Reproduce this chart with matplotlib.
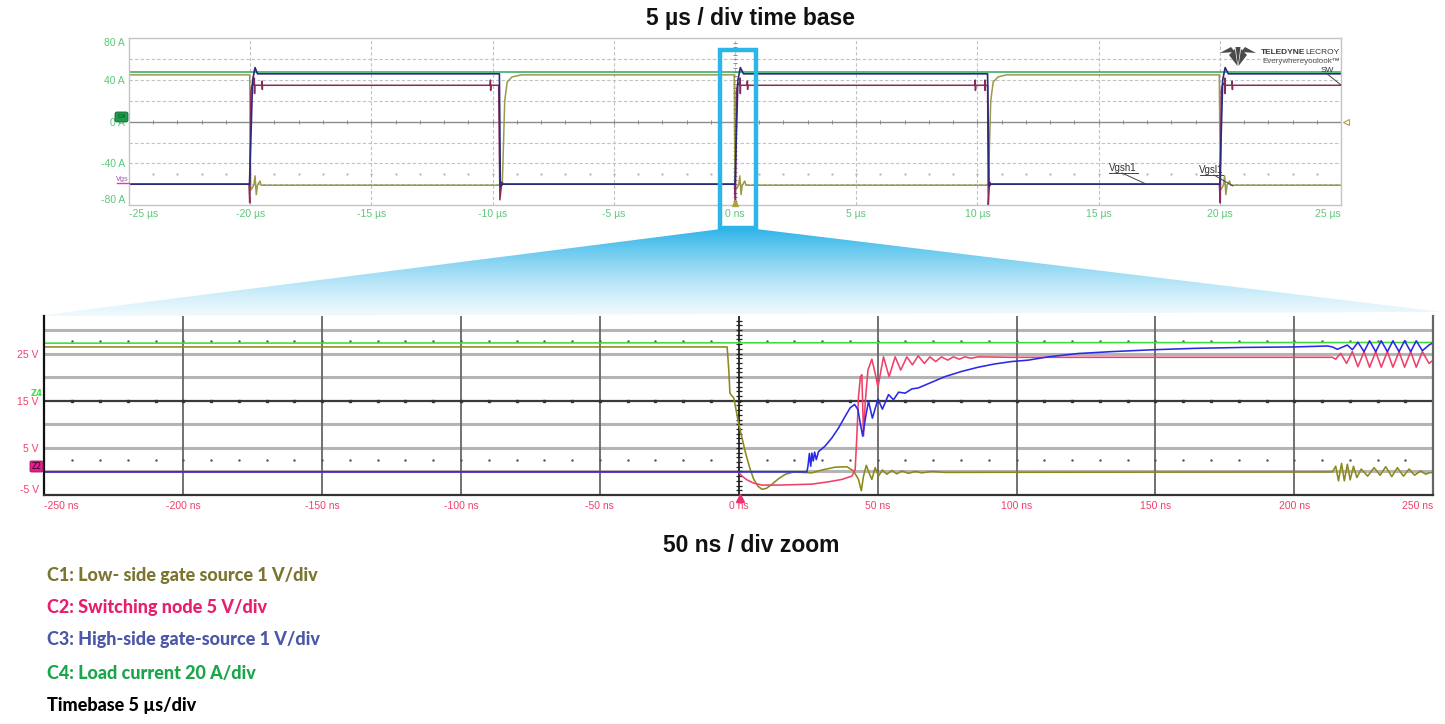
import numpy as np
import matplotlib
matplotlib.use("Agg")
import matplotlib.pyplot as plt
from matplotlib.patches import Rectangle, FancyBboxPatch, Polygon

# top screen: 5 us/div, time in us, traces in screen units (A scale)
top_xticks = [-25, -20, -15, -10, -5, 0, 5, 10, 15, 20, 25]
top_xlabels = ['-25 µs', '-20 µs', '-15 µs', '-10 µs', '-5 µs', '0 ns',
               '5 µs', '10 µs', '15 µs', '20 µs', '25 µs']
top_yticks = [80, 40, 0, -40, -80]
top_ylabels = ['80 A', '40 A', '0 A', '-40 A', '-80 A']

top_green_t = [-25, 25]
top_green_v = [47.5, 47.5]

top_olive_t = [-25, -20.02, -19.98, -19.85, -19.8, -19.75, -19.7, -19.6, -19.55, -9.6, -9.5, -9.4, -9.2, -8.8,
               -0.03, 0.0, 0.15, 0.2, 0.25, 0.3, 0.4, 0.45, 10.45, 10.55, 10.65, 10.85, 11.2,
               19.98, 20.02, 20.15, 20.2, 20.25, 20.3, 20.4, 20.45, 25]
top_olive_v = [45, 45, -66, -61, -52, -70, -61, -57, -61, -61, 20, 38, 43, 45,
               45, -66, -61, -52, -70, -61, -57, -61, -61, 20, 38, 43, 45,
               45, -66, -61, -52, -70, -61, -57, -61, -61]

top_blue_t = [-25, -20.03, -19.9, -19.8, -19.7, -9.72, -9.68, -9.6,
              0.0, 0.12, 0.22, 0.35, 10.42, 10.48, 10.55,
              20.0, 20.12, 20.22, 20.35, 25]
top_blue_v = [-60, -60, 40, 52, 46, 46, -62, -60,
              -60, 40, 52, 46, 46, -62, -60,
              -60, 40, 52, 46, 46]

top_sw_t = [-25, -20.05, -20.02, -19.97, -19.9, -19.84, -19.83, -19.82, -19.81, -19.52, -19.51, -19.50, -19.49,
            -10.1, -10.09, -10.08, -10.07, -9.75, -9.7, -9.62, -9.55,
            -0.02, 0.02, 0.06, 0.12, 0.2, 0.21, 0.22, 0.23, 0.5, 0.51, 0.52, 0.53,
            9.9, 9.91, 9.92, 9.93, 10.3, 10.31, 10.32, 10.33, 10.42, 10.45, 10.5, 10.55,
            19.98, 20.02, 20.06, 20.12, 20.2, 20.21, 20.22, 20.23, 20.5, 20.51, 20.52, 20.53, 25]
top_sw_v = [-60, -60, -78, 30, 37, 35, 42, 27, 35, 35, 39, 31, 35,
            35, 40, 30, 35, 35, -75, -58, -60,
            -60, -78, 30, 37, 35, 42, 27, 35, 35, 39, 31, 35,
            35, 40, 30, 35, 35, 40, 30, 35, 35, -80, -58, -60,
            -60, -78, 30, 37, 35, 42, 27, 35, 35, 39, 31, 35, 35]

# zoom screen: 50 ns/div, time in ns, traces in screen units (V scale)
lo_xticks = [-250, -200, -150, -100, -50, 0, 50, 100, 150, 200, 250]
lo_xlabels = ['-250 ns', '-200 ns', '-150 ns', '-100 ns', '-50 ns', '0 ns',
              '50 ns', '100 ns', '150 ns', '200 ns', '250 ns']
lo_yticks = [25, 15, 5, -5]
lo_ylabels = ['25 V', '15 V', '5 V', '-5 V']

lo_green_t = [-250, 250]
lo_green_v = [27.2, 27.35]

lo_olive_t = [-250, -4.2, -3.6, -3.2, -2.6, -1.8, -1.0, -0.2, 1.0, 2.4, 3.9, 5.4, 7.0, 8.4, 9.9,
              12.0, 14.4, 16.8, 19.8, 26.3, 29.9, 34.7, 38.9, 41.3, 43.1, 44.1, 44.9, 45.9, 47.1, 47.9,
              49.1, 50.3, 51.7, 53.3, 55.1, 56.9, 58.7, 61.1, 63.5, 65.9, 69.5, 74.2,
              213.7, 214.9, 215.9, 217.0, 218.0, 219.1, 220.1, 221.3, 222.5, 224.1, 226.4, 228.7,
              230.9, 232.9, 235.1, 237.1, 239.3, 241.3, 243.3, 245.5, 247.3, 248.5, 250]
lo_olive_v = [26.4, 26.4, 21.5, 16.6, 16.1, 15.6, 13.1, 10.6, 7.5, 4.0, 0.8, -1.7, -3.2, -3.8, -3.6,
              -2.7, -1.5, -0.6, -0.1, -0.3, 0.3, 0.9, 1.0, 0.1, -1.7, -4.1, -1.0, 1.3, -0.6, -1.7,
              0.8, -1.0, 0.3, -0.6, 0.2, -0.5, 0.1, -0.4, 0.0, -0.3, 0.0, -0.2,
              -0.1, 1.1, -2.0, 1.7, -2.0, 1.5, -1.8, 1.1, -1.3, 0.5, -1.0, 0.8,
              -0.8, 1.0, -1.1, 0.8, -1.0, 0.5, -0.8, 0.1, -0.6, -0.3, -0.2]

lo_red_t = [-250, -0.2, 1.2, 3.0, 5.4, 8.4, 14.4, 20.4, 26.3, 32.3, 37.1, 40.7, 41.9, 42.5, 43.1,
            43.8, 44.3, 44.9, 45.5, 46.5, 47.9, 49.1, 50.1, 51.0, 52.1, 54.1, 56.3, 58.3, 60.5, 62.5,
            64.6, 66.8, 68.8, 70.9, 73.0, 75.2, 77.2, 79.4, 81.4, 83.6, 86.2, 98.2,
            213.7, 214.9, 216.7, 218.8, 220.9, 222.9, 225.1, 227.1, 229.3, 231.3, 233.5, 235.5,
            237.7, 239.7, 241.9, 243.9, 246.1, 248.5, 250]
lo_red_v = [-0.1, -0.1, -1.0, -1.8, -2.5, -2.9, -2.9, -2.8, -2.7, -2.2, -1.7, -1.0, 0.4, 7.5, 15.9,
            20.1, 20.5, 7.5, 14.5, 21.5, 23.8, 20.8, 17.9, 20.8, 24.3, 20.1, 24.3, 21.5, 24.3, 22.6,
            24.5, 22.9, 24.3, 23.3, 24.3, 23.6, 24.3, 23.8, 24.3, 24.0, 24.3, 24.2,
            24.2, 23.8, 25.05, 22.9, 25.4, 22.2, 25.4, 22.1, 25.4, 22.1, 25.4, 22.1,
            25.4, 22.1, 25.4, 22.1, 25.4, 22.9, 23.6]

lo_blue_t = [-250, 24.5, 24.9, 25.4, 25.9, 26.3, 26.8, 27.3, 27.9, 28.7, 31.1, 33.5, 35.9, 38.3, 40.1,
             41.7, 42.9, 43.7, 44.6, 45.5, 46.7, 48.1, 50.1, 51.7, 53.9, 55.7, 57.5, 59.9, 62.3, 64.6,
             68.2, 74.2, 80.2, 86.2, 92.2, 98.2, 104.2, 111.4, 122.1, 134.1, 149.1, 164.0, 182.0,
             200.0, 212.0, 213.7, 215.5, 219.1, 220.9, 222.9, 225.1, 227.1, 229.3, 231.3, 233.5,
             235.5, 237.7, 239.7, 241.9, 243.9, 246.1, 248.5, 250]
lo_blue_v = [-0.1, -0.1, 1.1, 3.8, 1.1, 3.9, 2.2, 4.1, 2.5, 4.2, 5.4, 7.1, 9.2, 11.7, 13.5,
             14.2, 13.1, 10.3, 7.5, 11.0, 14.9, 11.3, 15.35, 13.2, 16.3, 15.2, 16.8, 16.6, 17.5, 17.7,
             18.6, 20.1, 21.2, 22.1, 22.8, 23.3, 23.6, 24.3, 25.0, 25.4, 25.8, 26.1, 26.3,
             26.4, 26.6, 26.4, 25.9, 26.8, 25.8, 27.4, 25.4, 27.7, 25.4, 27.7, 25.4,
             27.7, 25.4, 27.7, 25.4, 27.7, 25.6, 26.8, 27.3]

legend_lines = ['C1: Low- side gate source 1 V/div',
                'C2: Switching node 5 V/div',
                'C3: High-side gate-source 1 V/div',
                'C4: Load current 20 A/div',
                'Timebase 5 µs/div']
legend_colors = ['#7b7530', '#e5206f', '#4c57a8', '#1aa64a', '#000000']

# ---------------- figure ----------------
W, H = 1445, 724
fig = plt.figure(figsize=(W / 100, H / 100), dpi=100)
fig.patch.set_facecolor('white')

label_font = ['Liberation Sans', 'DejaVu Sans']

# top screen (pixel box 129..1341 x 38..205)
ax_top = fig.add_axes([129 / W, 1 - 205 / H, (1341 - 129) / W, 167 / H])
ax_top.set_xlim(-25, 25)
ax_top.set_ylim(-79.4, 80.4)
for s in ax_top.spines.values():
    s.set_color('#c4c4c4')
    s.set_linewidth(1.0)

#dashed scope grid
for gx in [-20, -15, -10, -5, 0, 5, 10, 15, 20]:
    ax_top.axvline(gx, color='#c2c2c2', lw=0.8, ls=(0, (3, 2)), zorder=0.5)
for gy in [-60, -40, -20, 20, 40, 60]:
    ax_top.axhline(gy, color='#c2c2c2', lw=0.8, ls=(0, (3, 2)), zorder=0.5)
ax_top.axhline(0, color='#8c8c8c', lw=1.0, zorder=0.6)
ax_top.plot(np.arange(-24, 25, 1), np.zeros(49), ls='none', marker='|', ms=3, mew=0.7, color='#8c8c8c', zorder=0.6)
ax_top.plot(np.zeros(39), np.arange(-76, 80, 4), ls='none', marker='_', ms=3, mew=0.7, color='#8c8c8c', zorder=0.6)
ax_top.plot(np.arange(-24, 25, 1), np.full(49, -50), ls='none', marker='.', ms=1.2, color='#b0b0b0', zorder=0.6)

ax_top.plot(top_green_t, top_green_v, color='#27a860', lw=1.1, zorder=2)
ax_top.plot(top_olive_t, top_olive_v, color='#9a9a48', lw=1.1, zorder=2.1)
ax_top.plot(top_sw_t, top_sw_v, color='#8a2a5c', lw=1.1, zorder=2.2)
ax_top.plot(top_blue_t, top_blue_v, color='#2b2b7e', lw=1.2, zorder=2.3)

ax_top.set_xticks(top_xticks)
ax_top.set_xticklabels(top_xlabels)
ax_top.set_yticks(top_yticks)
ax_top.set_yticklabels(top_ylabels)
ax_top.tick_params(length=0, labelsize=7.5, colors='#5cc87a', pad=3)
for lab in ax_top.get_xticklabels() + ax_top.get_yticklabels():
    lab.set_family(label_font)
ax_top.get_xticklabels()[0].set_ha('left')
ax_top.get_xticklabels()[-1].set_ha('right')
ax_top.get_yticklabels()[0].set_va('top')
ax_top.get_yticklabels()[-1].set_va('bottom')

# zoom screen (pixel box 44..1433 x 316..495)
ax_lo = fig.add_axes([44.4 / W, 1 - 495 / H, (1433.2 - 44.4) / W, 179 / H])
ax_lo.set_xlim(-250, 250)
ax_lo.set_ylim(-5, 32.96)
ax_lo.spines['top'].set_visible(False)
ax_lo.spines['left'].set_color('#111111')
ax_lo.spines['left'].set_linewidth(1.6)
ax_lo.spines['bottom'].set_color('#333333')
ax_lo.spines['bottom'].set_linewidth(1.6)
ax_lo.spines['right'].set_color('#666666')
ax_lo.spines['right'].set_linewidth(1.6)

for gx in [-200, -150, -100, -50, 50, 100, 150, 200]:
    ax_lo.axvline(gx, color='#666666', lw=1.3, zorder=0.5)
for gy in [0, 5, 10, 20, 25, 30]:
    ax_lo.axhline(gy, color='#b4b4b4', lw=2.2, zorder=0.4)
ax_lo.axhline(15, color='#3a3a3a', lw=1.6, zorder=0.6)
ax_lo.axvline(0, color='#222222', lw=1.3, zorder=0.6)
ax_lo.plot(np.arange(-240, 250, 10), np.full(49, 15), ls='none', marker='s', ms=1.6, color='#333333', zorder=0.7)
ax_lo.plot(np.zeros(38), np.arange(-5, 33, 1), ls='none', marker='_', ms=5, mew=0.9, color='#222222', zorder=0.7)
for dy in [27.75, 2.5]:
    ax_lo.plot(np.arange(-240, 250, 10), np.full(49, dy), ls='none', marker='.', ms=1.5, color='#555555', zorder=0.7)

ax_lo.plot(lo_green_t, lo_green_v, color='#3cdc3c', lw=1.15, zorder=2)
ax_lo.plot(lo_olive_t, lo_olive_v, color='#8a8a1c', lw=1.15, zorder=2.1)
ax_lo.plot(lo_red_t, lo_red_v, color='#f0406a', lw=1.15, zorder=2.2)
ax_lo.plot(lo_blue_t, lo_blue_v, color='#2a2ae6', lw=1.15, zorder=2.3)

ax_lo.set_xticks(lo_xticks)
ax_lo.set_xticklabels(lo_xlabels)
ax_lo.set_yticks(lo_yticks)
ax_lo.set_yticklabels(lo_ylabels)
ax_lo.tick_params(length=0, labelsize=7.5, colors='#f0406a', pad=4)
for lab in ax_lo.get_xticklabels() + ax_lo.get_yticklabels():
    lab.set_family(label_font)
ax_lo.get_xticklabels()[0].set_ha('left')
ax_lo.get_xticklabels()[-1].set_ha('right')
ax_lo.get_yticklabels()[-1].set_va('bottom')

# overlay in pixel coords for the callout, markers and captions
ov = fig.add_axes([0, 0, 1, 1], zorder=10)
ov.set_xlim(0, W)
ov.set_ylim(H, 0)
ov.axis('off')

# blue fan from the highlight box down to the zoom screen
s = np.linspace(0, 1, 200)
grad = np.zeros((200, 1, 4))
grad[:, 0, 0] = 0.16
grad[:, 0, 1] = 0.70
grad[:, 0, 2] = 0.91
grad[:, 0, 3] = 0.88 * (1 - s) ** 1.3 + 0.08
im = ov.imshow(grad, extent=[30, 1442, 316, 229], aspect='auto', zorder=1, interpolation='bilinear')
fan = Polygon([(721, 229), (756, 229), (1442, 312), (36, 316)], closed=True, transform=ov.transData,
              fc='none', ec='none')
ov.add_patch(fan)
im.set_clip_path(fan)
ov.set_xlim(0, W)
ov.set_ylim(H, 0)

ov.add_patch(Rectangle((720, 50), 36, 178, fill=False, ec='#2bb5e8', lw=3.2, zorder=3))

# channel badges / scope markers
ov.add_patch(FancyBboxPatch((115, 112), 13, 10, boxstyle='round,pad=0,rounding_size=2',
                            fc='#1f9a4c', ec='#0f6a30', lw=0.6, zorder=3))
ov.text(121.5, 117, 'C4', fontsize=4.5, color='#0a4a20', ha='center', va='center', zorder=4)
ov.text(122, 179.5, 'Vgs', fontsize=5, color='#9a5ab0', ha='center', va='center', zorder=4)
ov.plot([117, 129], [183, 183], color='#e040a0', lw=1, zorder=3)
ov.plot([1346], [122], marker='<', mfc='none', mec='#b0a040', ms=4, mew=0.8, zorder=3)
ov.plot([735], [203], marker='^', color='#b0a040', ms=4, zorder=3)
ov.plot([740], [498], marker='^', color='#f03070', ms=6, zorder=3)

ov.text(37, 394, 'Z4', fontsize=6, color='#44dd44', ha='center', va='center', fontweight='bold', zorder=4)
ov.add_patch(FancyBboxPatch((30, 461), 13, 11, boxstyle='round,pad=0,rounding_size=1.5',
                            fc='#e0208c', ec='#a01060', lw=0.6, zorder=3))
ov.text(36.5, 466.5, 'Z2', fontsize=5.5, color='#40001e', ha='center', va='center', zorder=4)

# trace annotations
ov.text(1123, 168, 'Vgsh1', fontsize=7, color='#333333', ha='center', va='center', family=label_font, zorder=4)
ov.plot([1109, 1138], [173, 173], color='#444444', lw=0.7, zorder=4)
ov.plot([1122, 1146], [173, 184], color='#444444', lw=0.7, zorder=4)
ov.text(1211, 170, 'Vgsl1', fontsize=7, color='#333333', ha='center', va='center', family=label_font, zorder=4)
ov.plot([1200, 1223], [175, 175], color='#444444', lw=0.7, zorder=4)
ov.plot([1214, 1233], [175, 186], color='#444444', lw=0.7, zorder=4)
ov.text(1327, 70, 'SW', fontsize=6, color='#333333', ha='center', va='center', family=label_font, zorder=4)
ov.plot([1326, 1341], [73, 85], color='#444444', lw=0.7, zorder=4)

# vendor logo
logo = '#4a4a4a'
for pts in [[(1220, 53), (1231, 47), (1235, 52)],
            [(1229, 55), (1235, 49), (1237.5, 66)],
            [(1235.5, 47), (1240.5, 47), (1238, 66)],
            [(1247, 55), (1241, 49), (1238.5, 66)],
            [(1256, 53), (1245, 47), (1241, 52)]]:
    ov.add_patch(Polygon(pts, closed=True, fc=logo, ec='none', zorder=4))
ov.text(1261, 52, 'TELEDYNE', fontsize=6.0, color='#3a3a3a', fontweight='bold', ha='left', va='center',
        family=label_font, zorder=4)
ov.text(1340, 52, 'LECROY', fontsize=6.0, color='#3a3a3a', ha='right', va='center', family=label_font, zorder=4)
ov.text(1262, 61.5, 'Everywhereyoulook™', fontsize=5.8, color='#555555', ha='left', va='center',
        family=label_font, zorder=4)

# captions
ov.text(751, 19, '5 µs / div time base', fontsize=16.5, fontweight='bold', ha='center', va='center',
        family=label_font, color='#111111')
ov.text(751, 545, '50 ns / div zoom', fontsize=16.5, fontweight='bold', ha='center', va='center',
        family=label_font, color='#111111')

legend_y = [575, 607, 640, 673, 706]
for txt, col, ly in zip(legend_lines, legend_colors, legend_y):
    ov.text(47, ly, txt, fontsize=13, fontweight='black', color=col, ha='left', va='center',
            family=['Lato', 'Liberation Sans', 'DejaVu Sans'])

fig.savefig('out.png', dpi=100, facecolor='white')
